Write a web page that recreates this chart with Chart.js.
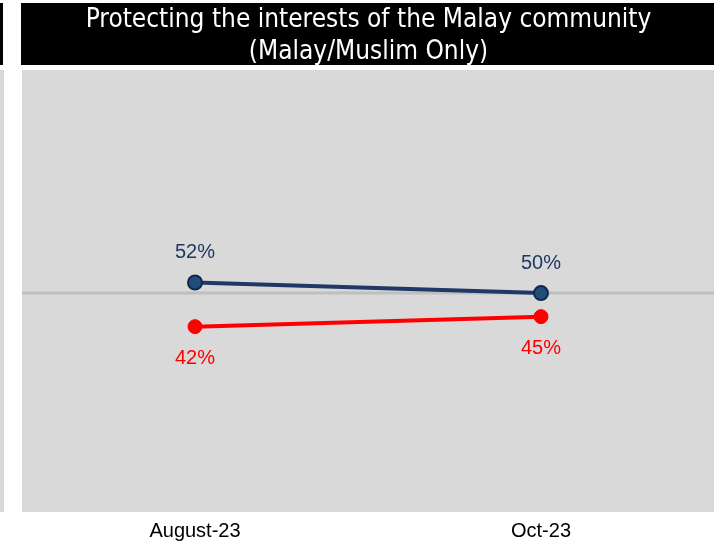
<!DOCTYPE html>
<html>
<head>
<meta charset="utf-8">
<script src="https://cdn.jsdelivr.net/npm/chart.js@4"></script>
<style>
  html, body { margin: 0; padding: 0; background: #fff; }
  #wrap { width: 723px; height: 545px; }
</style>
</head>
<body>
<div id="wrap"><canvas id="trendChart" width="723" height="545"></canvas></div>
<script>
// values
const periods = ['August-23', 'Oct-23'];
const blueSeries = [52, 50];
const redSeries = [42, 45];
const refLineValue = 50;
const titleLines = ['Protecting the interests of the Malay community', '(Malay/Muslim Only)'];

// background boxes, reference line and value labels
const decorPlugin = {
    id: 'decor',
    beforeDraw(chart) {
        const ctx = chart.ctx;
        const area = chart.chartArea;
        ctx.save();
        ctx.fillStyle = '#000000';
        ctx.fillRect(21, 3, area.right - 21, 62);
        ctx.fillRect(0, 3, 3, 62);
        ctx.fillStyle = '#d9d9d9';
        ctx.fillRect(0, area.top, 4, area.bottom - area.top);
        ctx.fillRect(area.left, area.top, area.right - area.left, area.bottom - area.top);
        ctx.restore();
    },
    beforeDatasetsDraw(chart) {
        const ctx = chart.ctx;
        const area = chart.chartArea;
        const y = chart.scales.y.getPixelForValue(refLineValue);
        ctx.save();
        ctx.strokeStyle = '#bfbfbf';
        ctx.lineWidth = 3;
        ctx.beginPath();
        ctx.moveTo(area.left, y);
        ctx.lineTo(area.right, y);
        ctx.stroke();
        ctx.restore();
    },
    afterDatasetsDraw(chart) {
        const ctx = chart.ctx;
        ctx.save();
        ctx.font = '20px "Liberation Sans", Arial, sans-serif';
        ctx.textAlign = 'center';
        ctx.textBaseline = 'middle';
        chart.data.datasets.forEach((ds, i) => {
            const meta = chart.getDatasetMeta(i);
            meta.data.forEach((pt, j) => {
                ctx.fillStyle = ds.labelColor;
                ctx.fillText(ds.data[j] + '%', pt.x, pt.y + ds.labelOffset);
            });
        });
        ctx.restore();
    }
};

new Chart(document.getElementById('trendChart'), {
    type: 'line',
    data: {
        labels: periods,
        datasets: [{
            label: 'Blue',
            data: blueSeries,
            yAxisID: 'y',
            borderColor: '#203864',
            borderWidth: 4,
            pointRadius: 7,
            pointBackgroundColor: '#1f4e79',
            pointBorderColor: '#10284f',
            pointBorderWidth: 2,
            labelColor: '#1f3864',
            labelOffset: -30
        }, {
            label: 'Red',
            data: redSeries,
            yAxisID: 'y2',
            borderColor: '#ff0000',
            borderWidth: 4,
            pointRadius: 7,
            pointBackgroundColor: '#ff0000',
            pointBorderColor: '#ff0000',
            pointBorderWidth: 1,
            labelColor: '#ff0000',
            labelOffset: 32
        }]
    },
    options: {
        responsive: false,
        animation: false,
        // axis height comes out as 2*padding + lineHeight, so bottom goes negative
        layout: { padding: { left: 22, right: 8, top: 3, bottom: -5 } },
        scales: {
            x: {
                offset: true,
                grid: { display: false, drawTicks: false },
                border: { display: false },
                ticks: {
                    color: '#000000',
                    padding: 7,
                    font: { family: '"Liberation Sans", Arial, sans-serif', size: 20, lineHeight: 1.2 }
                }
            },
            y: { display: false, min: 8.7, max: 92.1 },
            y2: { display: false, min: -13.6, max: 119 }
        },
        plugins: {
            legend: { display: false },
            tooltip: { enabled: false },
            title: {
                display: true,
                text: titleLines,
                color: '#ffffff',
                padding: { top: 2, bottom: 2.6 },
                font: { family: '"DejaVu Sans Condensed", "DejaVu Sans", sans-serif', size: 26, weight: 'normal', lineHeight: 1.2 }
            }
        }
    },
    plugins: [decorPlugin]
});
</script>
</body>
</html>
